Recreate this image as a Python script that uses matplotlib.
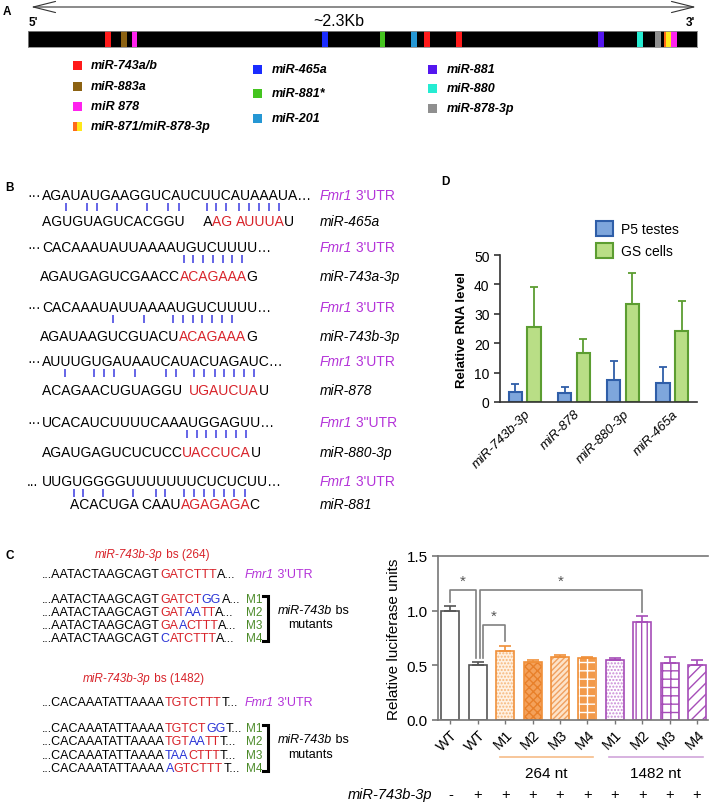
import numpy as np
import matplotlib.pyplot as plt
from matplotlib.font_manager import FontProperties, findfont, get_font
from matplotlib.backends.backend_agg import get_hinting_flag
from matplotlib.patches import Rectangle
from matplotlib.transforms import ScaledTranslation

plt.rcParams['font.family'] = 'Liberation Sans'
plt.rcParams['hatch.linewidth'] = 1.0

# ---------------- data ----------------
# A: miRNA binding sites along the ~2.3 kb Fmr1 3'UTR (kb)
legend_names = [['miR-743a/b', 'miR-883a', 'miR 878', 'miR-871/miR-878-3p'],
                ['miR-465a', 'miR-881*', 'miR-201'],
                ['miR-881', 'miR-880', 'miR-878-3p']]
legend_colors = [['#ff1a1a', '#8c6212', '#ff22ee', ('#ff6a1a', '#ffe81a')],
                 ['#1a2cff', '#44c41f', '#2597d4'],
                 ['#5416ef', '#25ecd2', '#8f8f8f']]
site_kb = [0.275, 0.330, 0.366, 1.021, 1.220, 1.327, 1.372, 1.482,
           1.970, 2.104, 2.166, 2.195, 2.204, 2.221]
site_color = ['#ff1a1a', '#8c6212', '#ff22ee', '#1a2cff', '#44c41f', '#2597d4',
              '#ff1a1a', '#ff1a1a', '#5416ef', '#25ecd2', '#8f8f8f', '#ff6a1a',
              '#ffe81a', '#ff22ee']

# B: Fmr1 3'UTR / miRNA pairing
utr_prefix = ['···', '···', '···', '···', '···', '...']
utr_seq = ['AGAUAUGAAGGUCAUCUUCAUAAAUA', 'CACAAAUAUUAAAAUGUCUUUU',
           'CACAAAUAUUAAAAUGUCUUUU', 'AUUUGUGAUAAUCAUACUAGAUC',
           'UCACAUCUUUUCAAAUGGAGUU', 'UUGUGGGGUUUUUUUCUCUCUU']
utr_label = ["3'UTR", "3'UTR", "3'UTR", "3'UTR", '3"UTR', "3'UTR"]
# (text, seed?) pieces of each miRNA line
mir_parts = [[('AGUGUAGUCACGGU     A', 0), ('AG ', 1), ('AUUUA', 1), ('U', 0)],
             [('AGAUGAGUCGAACC', 0), ('ACAGAAA', 1), ('G', 0)],
             [('AGAUAAGUCGUACU', 0), ('ACAGAAA', 1), ('G', 0)],
             [('ACAGAACUGUAGGU  ', 0), ('UGAUCUA', 1), ('U', 0)],
             [('AGAUGAGUCUCUCC', 0), ('UACCUCA', 1), ('U', 0)],
             [('ACACUGA CAAU', 0), ('AGAGAGA', 1), ('C', 0)]]
pair_idx = [[2, 4, 5, 7, 10, 12, 13, 19, 20, 21, 23, 24, 25, 26, 27],
            [14, 15, 16, 17, 18, 19, 20],
            [7, 10, 13, 14, 15, 16, 17, 18, 19],
            [2, 5, 6, 7, 9, 12, 13, 16, 17, 18, 19, 20, 21, 22],
            [14, 15, 16, 17, 18, 19, 20],
            [0, 1, 3, 6, 9, 10, 12, 13, 14, 15, 16, 17, 18]]
mir_names = ['miR-465a', 'miR-743a-3p', 'miR-743b-3p', 'miR-878', 'miR-880-3p', 'miR-881']

# C (left): binding sites and mutants, pieces coded k=black r=site b=mutated
bs_titles = ['264', '1482']
bs_wt = [[('...AATACTAAGCAGT', 'k'), ('GATCTTT', 'r'), ('A...', 'k')],
         [('...CACAAATATTAAAA', 'k'), ('TGTCTTT', 'r'), ('T...', 'k')]]
bs_mut = [[[('...AATACTAAGCAGT', 'k'), ('GATCT', 'r'), ('GG', 'b'), ('A...', 'k')],
           [('...AATACTAAGCAGT', 'k'), ('GAT', 'r'), ('AA', 'b'), ('TT', 'r'), ('A...', 'k')],
           [('...AATACTAAGCAGT', 'k'), ('GA', 'r'), ('A', 'b'), ('CTTT', 'r'), ('A...', 'k')],
           [('...AATACTAAGCAGT', 'k'), ('C', 'b'), ('ATCTTT', 'r'), ('A...', 'k')]],
          [[('...CACAAATATTAAAA', 'k'), ('TGTCT', 'r'), ('GG', 'b'), ('T...', 'k')],
           [('...CACAAATATTAAAA', 'k'), ('TGT', 'r'), ('AA', 'b'), ('TT', 'r'), ('T...', 'k')],
           [('...CACAAATATTAAAA', 'k'), ('TAA', 'b'), ('CTTT', 'r'), ('T...', 'k')],
           [('...CACAAATATTAAAA', 'k'), ('A', 'b'), ('GTCTTT', 'r'), ('T...', 'k')]]]
mut_names = ['M1', 'M2', 'M3', 'M4']

# C (right): luciferase
luc_labels = ['WT', 'WT', 'M1', 'M2', 'M3', 'M4', 'M1', 'M2', 'M3', 'M4']
luc_mean = [1.00, 0.50, 0.63, 0.53, 0.58, 0.565, 0.545, 0.90, 0.525, 0.505]
luc_err = [0.04, 0.03, 0.05, 0.015, 0.01, 0.015, 0.02, 0.05, 0.05, 0.04]
mir_added = ['-', '+', '+', '+', '+', '+', '+', '+', '+', '+']
luc_groups = [('264 nt', 2, 5), ('1482 nt', 6, 9)]
sig_pairs = [(0, 1), (1, 7), (1, 2)]

# D: qPCR
d_mirs = ['miR-743b-3p', 'miR-878', 'miR-880-3p', 'miR-465a']
p5_mean = [3.5, 3.0, 7.5, 6.5]
p5_err = [2.5, 2.0, 6.5, 5.5]
gs_mean = [25.5, 16.5, 33.5, 24.0]
gs_err = [13.5, 5.0, 10.5, 10.5]

# ---------------- drawing ----------------
W, H = 709, 804
RED, BLUE, MAG, GRN = '#d8232a', '#2b35d6', '#b433d9', '#4d8b2a'
COL = {'k': 'black', 'r': RED, 'b': BLUE}

fig = plt.figure(figsize=(W / 100, H / 100), dpi=100)
ov = fig.add_axes([0, 0, 1, 1])
ov.set_xlim(0, W)
ov.set_ylim(H, 0)
ov.axis('off')
rend = fig.canvas.get_renderer()
FONT_FILE = findfont(FontProperties(family='Liberation Sans'))


def inkw(s, size):
    fp = FontProperties(family='Liberation Sans', size=size)
    return rend.get_text_width_height_descent(s, fp, ismath=False)[0]


def lsb(ch, size):
    f = get_font(FONT_FILE)
    f.clear()
    f.set_size(size, 100)
    f.set_text(ch, 0, flags=get_hinting_flag())
    return f.get_bitmap_offset()[0] / 64


def box(x0, y0, x1, y1):
    return [x0 / W, 1 - y1 / H, (x1 - x0) / W, (y1 - y0) / H]


def run(x, y, parts, size):
    """same-font coloured pieces side by side; returns centre of every char"""
    full = ''.join(s for s, c in parts)
    right = np.array([inkw(full[:i + 1], size) for i in range(len(full))])
    left = right - np.array([inkw(ch, size) for ch in full])
    ink0 = x + lsb(full[0], size)
    pos = 0
    for s, c in parts:
        ov.text(ink0 + left[pos] - lsb(s[0], size), y, s, color=c, fontsize=size,
                ha='left', va='center')
        pos += len(s)
    return ink0 + (left + right) / 2


def label(x, y, parts, size, **kw):
    """mixed italic / upright label, pieces chained on the previous one"""
    s, c, st = parts[0]
    t = ov.text(x, y, s, color=c, style=st, fontsize=size, va='center', **kw)
    for s, c, st in parts[1:]:
        t = ov.annotate(s, xy=(1, 0.5), xycoords=t, color=c, style=st,
                        fontsize=size, va='center', ha='left', **kw)


# panel letters
for lab, (px, py) in zip('ABCD', [(3, 12), (5, 188), (5, 556), (441, 182)]):
    ov.text(px, py, lab, fontsize=8.5, fontweight='bold', va='center')

# ---- A ----
ov.annotate('', xy=(31, 8), xytext=(696, 8),
            arrowprops=dict(arrowstyle='<->,head_length=1.6,head_width=0.4', lw=0.8,
                            color='#333', shrinkA=0, shrinkB=0))
ov.text(339, 21, '~2.3Kb', fontsize=11.5, ha='center', va='center')
ov.text(29, 23, "5'", fontsize=8.5, fontweight='bold', va='center')
ov.text(686, 23, "3'", fontsize=8.5, fontweight='bold', va='center')

axa = fig.add_axes(box(28, 32, 697, 48))
axa.set_facecolor('black')
axa.set_xlim(0, 2.3)
axa.set_xticks([])
axa.set_yticks([])
for s in axa.spines.values():
    s.set_color('#888')
    s.set_linewidth(0.6)
for kb, c in zip(site_kb, site_color):
    axa.axvspan(kb - 0.009, kb + 0.009, color=c, lw=0)

leg_x = [(77, 91), (257, 272), (432, 447)]
leg_y = [[66, 87, 107, 127], [70, 94, 119], [70, 89, 109]]
for (sx, tx), names, cols, ys in zip(leg_x, legend_names, legend_colors, leg_y):
    for nm, c, y in zip(names, cols, ys):
        if isinstance(c, tuple):
            ov.add_patch(Rectangle((sx - 4.5, y - 4.5), 4.5, 9, color=c[0], lw=0))
            ov.add_patch(Rectangle((sx, y - 4.5), 4.5, 9, color=c[1], lw=0))
        else:
            ov.add_patch(Rectangle((sx - 4.5, y - 4.5), 9, 9, color=c, lw=0))
        ov.text(tx, y, nm, fontsize=9, fontweight='bold', style='italic', va='center')

# ---- B ----
top_y = [196, 248, 308, 362, 423, 482]
bot_y = [222, 277, 337, 391, 453, 505]
bot_x = [42, 40, 40, 42, 42, 70]
for k in range(6):
    ty, by = top_y[k], bot_y[k]
    ov.text(27, ty, utr_prefix[k], fontsize=10, va='center')
    run(42, ty, [(utr_seq[k] + '…', 'black')], 10)
    cx = run(bot_x[k], by, [(s, RED if seed else 'black') for s, seed in mir_parts[k]], 10)
    ov.vlines(cx[pair_idx[k]] - 1, ty + 8, ty + 16, color='#3b3be0', lw=1.1)
    label(320, ty, [('Fmr1', MAG, 'italic'), (' ' + utr_label[k], MAG, 'normal')], 10)
    ov.text(320, by, mir_names[k], fontsize=10, style='italic', va='center')

# ---- C left ----
title_y = [555, 679]
wt_y = [575, 703]
mut_y = [[600, 613, 626, 639], [729, 742, 756, 769]]
title_x = [95, 83]
for g in range(2):
    label(title_x[g], title_y[g], [('miR-743b-3p', RED, 'italic'),
                                   (' bs (%s)' % bs_titles[g], RED, 'normal')], 8.5)
    run(42, wt_y[g], [(s, COL[c]) for s, c in bs_wt[g]], 9)
    label(245, wt_y[g], [('Fmr1', MAG, 'italic'), (" 3'UTR", MAG, 'normal')], 9)
    for row, y, mn in zip(bs_mut[g], mut_y[g], mut_names):
        run(42, y, [(s, COL[c]) for s, c in row], 9)
        ov.text(246, y, mn, fontsize=8.5, color=GRN, va='center')
    y0, y1 = mut_y[g][0] - 3, mut_y[g][-1] + 3
    ov.plot([263, 268, 268, 263], [y0, y0, y1, y1], color='black', lw=2.2,
            solid_joinstyle='miter')
    label(278, (mut_y[g][1] + mut_y[g][0]) / 2 + 5,
          [('miR-743b', 'black', 'italic'), (' bs', 'black', 'normal')], 9)
    ov.text(288, (mut_y[g][2] + mut_y[g][1]) / 2 + 6, 'mutants', fontsize=9, va='center')

# ---- C right ----
axc = fig.add_axes(box(438, 557, 708, 721))
OR_E, PU_E = '#f0903a', '#a64db8'
bar_face = ['white', 'white', '#fff1e2', '#f4a15a', '#fde3c8', '#f29a4a',
            'white', 'white', 'white', 'white']
bar_hatch = [None, None, '.....', 'xxxx', '//////', '++', '.....', '|||', '++', '///']
bar_hcol = ['#555', '#555', '#f6b77a', '#e8802a', '#f0a060', 'white',
            '#c98ad6', PU_E, PU_E, PU_E]
bar_edge = ['#555', '#555'] + [OR_E] * 4 + [PU_E] * 4
xs = np.arange(len(luc_mean))
for i in xs:
    axc.bar(i, luc_mean[i], 0.66, color=bar_face[i], hatch=bar_hatch[i],
            edgecolor=bar_hcol[i], lw=0)
    axc.bar(i, luc_mean[i], 0.66, fill=False, edgecolor=bar_edge[i], lw=1.2)
    axc.errorbar(i, luc_mean[i], yerr=[[0], [luc_err[i]]], fmt='none',
                 ecolor=bar_edge[i], capsize=4, elinewidth=1.2, capthick=1.2)
sig_h = [1.185, 1.185, 0.87]
sig_dx = [(0, -0.07), (0.07, 0), (0.2, 0)]
top = np.array(luc_mean) + np.array(luc_err)
for (i, j), h, (dl, dr) in zip(sig_pairs, sig_h, sig_dx):
    axc.plot([i + dl, i + dl, j + dr, j + dr],
             [top[i] + 0.04, h, h, top[j] + 0.04], color='#808080', lw=1.2)
    axc.text((i + dl + j + dr) / 2, h + 0.02, '*', ha='center', va='bottom',
             fontsize=11, color='#555')
axc.set_xlim(-0.45, 9.4)
axc.set_ylim(0, 1.5)
axc.set_yticks([0, 0.5, 1.0, 1.5], ['0.0', '0.5', '1.0', '1.5'])
axc.set_xticks(xs, luc_labels, rotation=45, ha='right', rotation_mode='anchor',
               fontsize=10.5)
shift = ScaledTranslation(0.06, 0, fig.dpi_scale_trans)
for t in axc.get_xticklabels():
    t.set_transform(t.get_transform() + shift)
axc.spines[['right']].set_visible(False)
for s in ['left', 'bottom', 'top']:
    axc.spines[s].set_color('#777')
    axc.spines[s].set_linewidth(1.2)
axc.tick_params(axis='y', labelsize=11, length=4, width=1.2, color='#777')
axc.tick_params(axis='x', length=3, width=1, color='#777', pad=2)
axc.set_ylabel('Relative luciferase units', fontsize=11, labelpad=4)
xt = axc.get_xaxis_transform()
for (lab, a, b), c in zip(luc_groups, [OR_E, '#b36ac2']):
    axc.plot([a - 0.2, b + 0.2], [-0.226, -0.226], color=c, lw=1.2, alpha=0.6,
             transform=xt, clip_on=False)
    axc.text((a + b) / 2, -0.323, lab, transform=xt, ha='center', va='center', fontsize=11)
for i, sgn in zip(xs, mir_added):
    axc.text(i, -0.451, sgn, transform=xt, ha='center', va='center', fontsize=10.5)
ov.text(432, 795, 'miR-743b-3p', style='italic', fontsize=10.5, ha='right', va='center')

# ---- D ----
axd = fig.add_axes(box(500, 256, 697, 403))
x = np.arange(len(d_mirs))
B_F, B_E, G_F, G_E = '#7ea6dc', '#2f5ea8', '#b9de86', '#5c9d31'
axd.bar(x - 0.19, p5_mean, 0.27, color=B_F, edgecolor=B_E, lw=1.5, label='P5 testes')
axd.bar(x + 0.19, gs_mean, 0.27, color=G_F, edgecolor=G_E, lw=1.5, label='GS cells')
axd.errorbar(x - 0.19, p5_mean, yerr=[np.zeros(4), p5_err], fmt='none', ecolor=B_E,
             capsize=3, elinewidth=1.3, capthick=1.3)
axd.errorbar(x + 0.19, gs_mean, yerr=[np.zeros(4), gs_err], fmt='none', ecolor=G_E,
             capsize=3, elinewidth=1.3, capthick=1.3)
axd.set_xlim(-0.5, 3.5)
axd.set_ylim(0, 50)
axd.set_yticks(range(0, 51, 10))
axd.spines[['top', 'right']].set_visible(False)
for s in ['left', 'bottom']:
    axd.spines[s].set_color('#333')
    axd.spines[s].set_linewidth(1.2)
axd.tick_params(axis='y', labelsize=10, length=4, width=1.2, color='#333')
axd.tick_params(axis='x', length=0, pad=4)
axd.set_xticks(x, d_mirs, rotation=45, ha='right', rotation_mode='anchor',
               style='italic', fontsize=9.5)
axd.set_ylabel('Relative RNA level', fontweight='bold', fontsize=9.5)
axd.legend(loc='upper left', bbox_to_anchor=(596 / W, 1 - 222 / H),
           bbox_transform=fig.transFigure, frameon=False, fontsize=10,
           handlelength=1.2, handleheight=1.3, handletextpad=0.6,
           labelspacing=0.5, borderpad=0, borderaxespad=0)

fig.savefig('out.png', dpi=100)
